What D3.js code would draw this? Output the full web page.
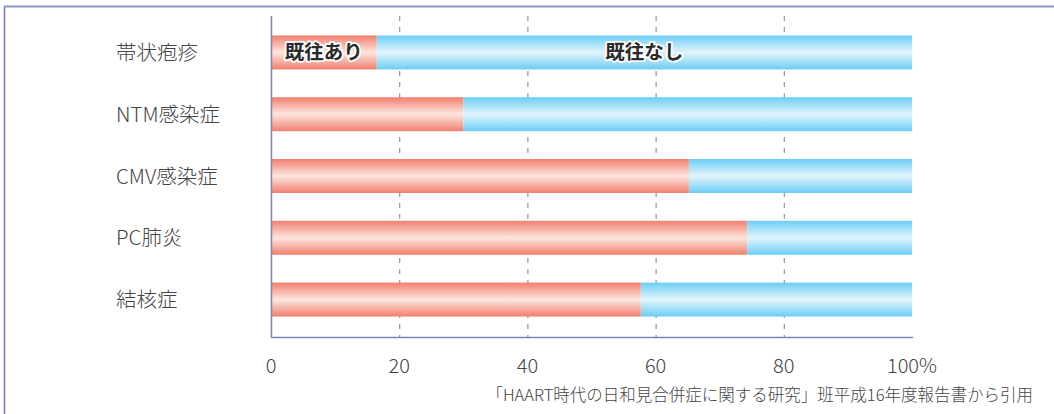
<!DOCTYPE html>
<html><head><meta charset="utf-8">
<script src="https://cdn.jsdelivr.net/npm/d3@7"></script>
<style>
html,body{margin:0;padding:0;background:#fff;}
svg{display:block;}
text{font-family:"Noto Sans CJK JP","Noto Sans",sans-serif;}
</style></head>
<body>
<svg id="chart" width="1054" height="414"></svg>
<script>
const categories = ["帯状疱疹", "NTM感染症", "CMV感染症", "PC肺炎", "結核症"];
const pastYes = [16.5, 30.0, 65.2, 74.3, 57.7];   // 既往あり (%)
const pastNo = pastYes.map(v => 100 - v);          // 既往なし (%)
const seriesNames = ["既往あり", "既往なし"];
const tickValues = [0, 20, 40, 60, 80, 100];
const tickLabels = ["0", "20", "40", "60", "80", "100%"];
const footnote = "「HAART時代の日和見合併症に関する研究」班平成16年度報告書から引用";

const svg = d3.select("#chart");
const defs = svg.append("defs");
function grad(id, edge, mid) {
  const g = defs.append("linearGradient").attr("id", id)
    .attr("x1", 0).attr("y1", 0).attr("x2", 0).attr("y2", 1);
  g.append("stop").attr("offset", "0%").attr("stop-color", edge);
  g.append("stop").attr("offset", "50%").attr("stop-color", mid);
  g.append("stop").attr("offset", "100%").attr("stop-color", edge);
}
grad("gRed", "#f17f6e", "#fde6de");
grad("gBlue", "#6acef5", "#e2f4fc");

// frame
svg.append("line").attr("x1", 4.5).attr("x2", 4.5).attr("y1", 6).attr("y2", 414)
  .attr("stroke", "#6f78c4").attr("stroke-width", 1.5);
svg.append("line").attr("x1", 4).attr("x2", 1054).attr("y1", 6.5).attr("y2", 6.5)
  .attr("stroke", "#8c90c8").attr("stroke-width", 2);

const x = d3.scaleLinear().domain([0, 100]).range([271, 912]);
const y = d3.scaleBand().domain(categories).range([20, 332]).paddingInner(0.45).paddingOuter(0.25);

// gridlines
svg.append("g").selectAll("line").data(tickValues.filter(t => t > 0 && t < 100)).join("line")
  .attr("x1", d => x(d) + 0.5).attr("x2", d => x(d) + 0.5)
  .attr("y1", 16).attr("y2", 337)
  .attr("stroke", "#8a8eb8").attr("stroke-width", 1.2)
  .attr("stroke-dasharray", "5,6");

// bars
const rows = categories.map((c, i) => ({ c, yes: pastYes[i], no: pastNo[i] }));
const g = svg.append("g");
g.selectAll("rect.yes").data(rows).join("rect").attr("class", "yes")
  .attr("x", x(0)).attr("y", d => y(d.c))
  .attr("width", d => x(d.yes) - x(0)).attr("height", y.bandwidth())
  .attr("fill", "url(#gRed)");
g.selectAll("rect.no").data(rows).join("rect").attr("class", "no")
  .attr("x", d => x(d.yes)).attr("y", d => y(d.c))
  .attr("width", d => x(100) - x(d.yes)).attr("height", y.bandwidth())
  .attr("fill", "url(#gBlue)");

// axes lines
svg.append("line").attr("x1", 271.5).attr("x2", 271.5).attr("y1", 16).attr("y2", 337.5)
  .attr("stroke", "#7f84b8").attr("stroke-width", 1.5);
svg.append("line").attr("x1", 271).attr("x2", 913).attr("y1", 337.5).attr("y2", 337.5)
  .attr("stroke", "#7f84b8").attr("stroke-width", 1.5);

// segment labels on first row
const r0 = rows[0];
const labelData = [
  { t: seriesNames[0], cx: (x(0) + x(r0.yes)) / 2 },
  { t: seriesNames[1], cx: (x(r0.yes) + x(100)) / 2 }
];
const lab = svg.append("g").selectAll("g").data(labelData).join("g");
lab.append("text").attr("x", d => d.cx).attr("y", y(r0.c) + y.bandwidth() / 2 + 7)
  .attr("text-anchor", "middle").attr("font-size", 19.5).attr("font-weight", "bold")
  .attr("stroke", "#fff").attr("stroke-width", 3.5).attr("stroke-linejoin", "round")
  .attr("fill", "#fff").text(d => d.t);
lab.append("text").attr("x", d => d.cx).attr("y", y(r0.c) + y.bandwidth() / 2 + 7)
  .attr("text-anchor", "middle").attr("font-size", 19.5).attr("font-weight", "bold")
  .attr("fill", "#2b2b2b").text(d => d.t);

// category labels
svg.append("g").selectAll("text").data(categories).join("text")
  .attr("x", 116).attr("y", d => y(d) + y.bandwidth() / 2 + 7.5)
  .attr("font-size", 20.5).attr("font-weight", 300).attr("fill", "#444").text(d => d);

// tick labels
svg.append("g").selectAll("text").data(tickValues).join("text")
  .attr("x", d => x(d))
  .attr("y", 373).attr("text-anchor", "middle")
  .attr("font-size", 20).attr("font-weight", 300).attr("fill", "#444").text((d, i) => tickLabels[i]);

// footnote
svg.append("text").attr("x", 1033).attr("y", 401).attr("text-anchor", "end")
  .attr("font-size", 16.5).attr("font-weight", 300).attr("fill", "#444").text(footnote);
</script>
</body></html>
